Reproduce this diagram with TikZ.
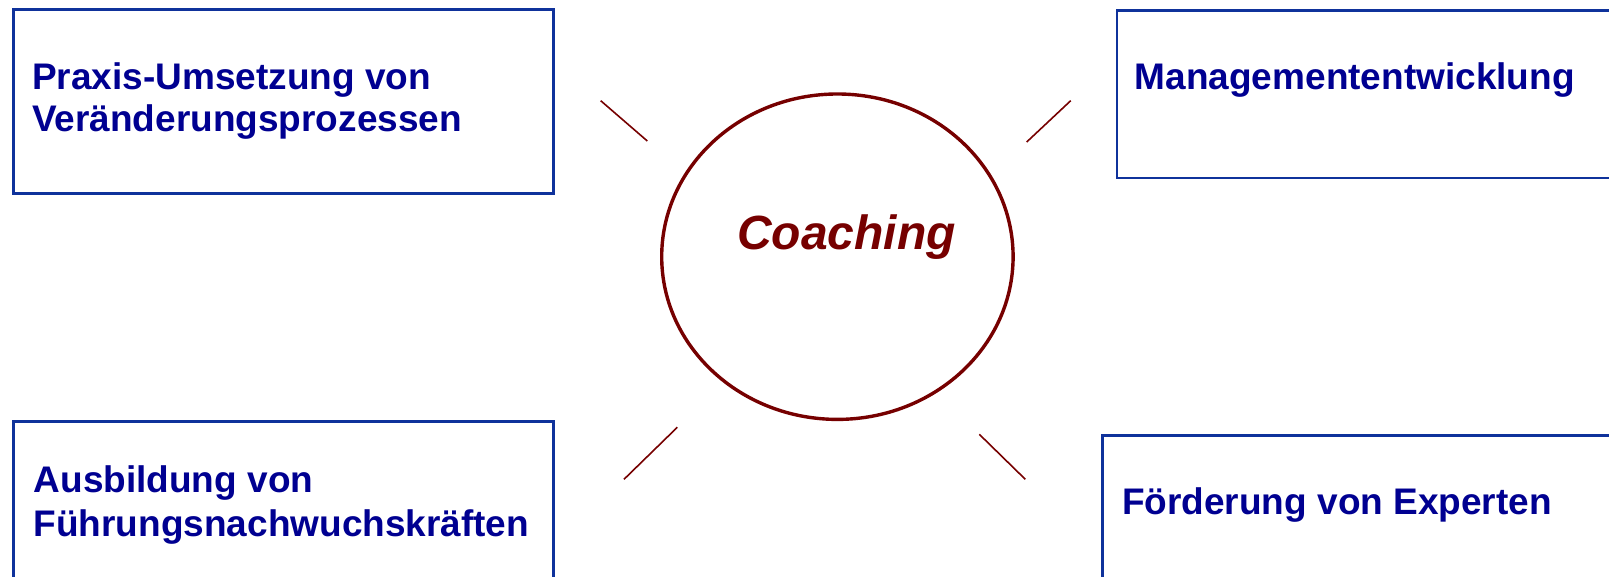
\documentclass[tikz,border=0pt]{standalone}
\usepackage{fontspec}
\setmainfont{Liberation Sans}
\usetikzlibrary{shapes.geometric}
\definecolor{txtblue}{RGB}{0,0,145}
\definecolor{boxblue}{RGB}{15,50,155}
\definecolor{maroon}{RGB}{118,0,0}
\begin{document}
\begin{tikzpicture}[x=1pt,y=-1pt,
  box/.style={draw=boxblue,line width=2.6pt,inner sep=0pt,anchor=north west},
  lbl/.style={text=txtblue,inner sep=0pt,anchor=base west,font=\fontsize{37}{42}\selectfont\bfseries},
  ray/.style={draw=maroon,line width=1.6pt}]
\useasboundingbox (0,0) rectangle (1609,577);
\clip (0,0) rectangle (1609,577);
% boxes
\node[box,minimum width=539.7pt,minimum height=183.8pt] (tl) at (12.3,8.3) {};
\node[box,minimum width=520pt,minimum height=167.6pt] (tr) at (1115.5,9.3) {};
\node[box,minimum width=539.7pt,minimum height=200pt] (bl) at (12.3,420) {};
\node[box,minimum width=540pt,minimum height=200pt] (br) at (1101,434) {};
% texts
\node[lbl] (t1) at (32,89.3) {Praxis-Umsetzung von};
\node[lbl] (t2) at (32,131.7) {Veränderungsprozessen};
\node[lbl] (t3) at (1134.6,89.3) {Managemententwicklung};
\node[lbl] (t4) at (33.5,492.7) {Ausbildung von};
\node[lbl] (t5) at (33.5,536) {Führungsnachwuchskräften};
\node[lbl] (t6) at (1122,514.3) {Förderung von Experten};
% circle
\node[draw=maroon,line width=3.4pt,ellipse,minimum width=351.4pt,minimum height=325.4pt,inner sep=0pt] (c) at (837.4,256.7) {};
\node[text=maroon,inner sep=0pt,anchor=base,font=\fontsize{48}{56}\selectfont\bfseries\itshape] (ct) at (846.5,250) {Coaching};
% rays
\coordinate (a1) at (600.7,100.7); \coordinate (a2) at (647.3,141);
\coordinate (b1) at (1070.7,100.7); \coordinate (b2) at (1026.7,142);
\coordinate (c1) at (677.3,427.3); \coordinate (c2) at (624,479.3);
\coordinate (d1) at (979.3,434.3); \coordinate (d2) at (1025.3,479.3);
\draw[ray] (a1) -- (a2);
\draw[ray] (b1) -- (b2);
\draw[ray] (c1) -- (c2);
\draw[ray] (d1) -- (d2);
\end{tikzpicture}
\end{document}
